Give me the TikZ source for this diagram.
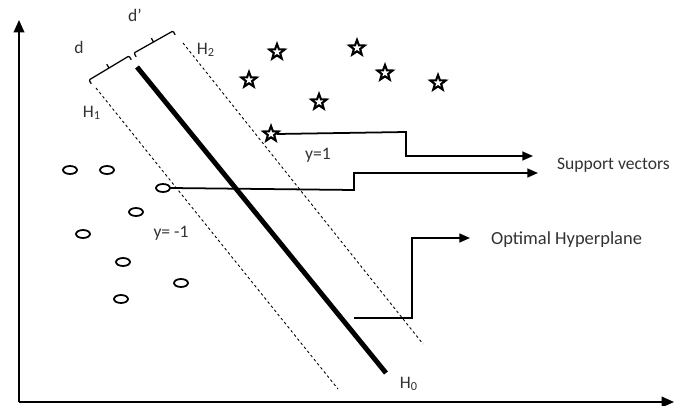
\documentclass[tikz,border=0pt]{standalone}
\usepackage{fontspec}
\setmainfont{Carlito}
\usepackage{tikz}
\usetikzlibrary{shapes.geometric,arrows.meta,positioning,calc}
\definecolor{textgrey}{RGB}{50,50,50}
% flat bracket between two points: end ticks toward the margin, middle tick away
\newcommand{\marginbracket}[2]{%
  \draw[line width=0.7pt, rounded corners=0.6pt]
    ($(#1)!2.5pt!-90:(#2)$) -- (#1) -- (#2) -- ($(#2)!2.5pt!90:(#1)$);
  \draw[line width=0.7pt] ($(#1)!0.5!(#2)$) -- ($($(#1)!0.5!(#2)$)!2.5pt!90:(#2)$);}

\begin{document}
\begin{tikzpicture}[x=0.02cm, y=-0.02cm,
    starpt/.style={star, star points=5, star point ratio=2.4, draw=black, line width=1.2pt,
                   fill=white, minimum size=0.32cm, inner sep=0pt},
    ovpt/.style={ellipse, draw=black, line width=1pt, fill=white,
                 minimum width=0.28cm, minimum height=0.16cm, inner sep=0pt},
    lbl/.style={font=\fontsize{10}{12}\selectfont, text=textgrey, inner sep=1pt},
    margin/.style={dash pattern=on 1.5pt off 1.5pt, line width=0.5pt},
    conn/.style={line width=1pt, -{Triangle[length=6pt, width=5pt]}}]
\useasboundingbox (0,0) rectangle (675,405);
% axes
\coordinate (o) at (19,402);
\coordinate (ytop) at (19,20);
\coordinate (xend) at (674,402);
\draw[line width=1pt, -{Triangle[length=7pt, width=6pt]}] (o) -- (ytop);
\draw[line width=1pt, -{Triangle[length=7pt, width=6pt]}] (o) -- (xend);
% hyperplane and margins
\coordinate (h0a) at (137,67);
\coordinate (h0b) at (386,373);
\coordinate (h1a) at (96,88);
\coordinate (h1b) at (338,389);
\coordinate (h2a) at (183,43);
\coordinate (h2b) at (423,344);
\draw[line width=2.8pt] (h0a) -- (h0b);
\draw[margin] (h1a) -- (h1b);
\draw[margin] (h2a) -- (h2b);
% distance brackets
\coordinate (da) at (89,80);
\coordinate (db) at (129,56);
\coordinate (dpa) at (134,53);
\coordinate (dpb) at (173,31);
\marginbracket{da}{db}
\marginbracket{dpa}{dpb}
\node[lbl] (dlbl) at (79,47) {d};
\node[lbl] (dplbl) at (135,15) {d’};
\node[lbl] (h1lbl) at (92,113) {H\textsubscript{1}};
\node[lbl] (h2lbl) at (206,50) {H\textsubscript{2}};
\node[lbl] (h0lbl) at (409,384) {H\textsubscript{0}};
\node[lbl] (pos) at (318,155) {y=1};
\node[lbl] (neg) at (171,233) {y= -1};
% class +1 (stars)
\foreach \i/\px/\py in {1/277/52, 2/357/48, 3/249/80, 4/385/73, 5/438/83, 6/319/102, 7/271/134}
  \node[starpt] (s\i) at (\px,\py) {};
% class -1 (ovals)
\foreach \i/\px/\py in {1/70/170, 2/107/170, 3/163/188, 4/136/212, 5/83/234, 6/123/262, 7/181/283, 8/121/299}
  \node[ovpt] (c\i) at (\px,\py) {};
% captions
\node[lbl, anchor=west] (sv) at (555,165) {Support vectors};
\node[lbl, anchor=west, font=\fontsize{10.5}{12}\selectfont] (opt) at (489,240) {Optimal Hyperplane};
% connectors
\coordinate (sv1) at (533,156);
\coordinate (sv2) at (538,173);
\coordinate (optend) at (470,238);
\coordinate (optstart) at (354,318);
\draw[conn] (s7.east) -- (406,132) -- (406,156) -- (sv1);
\draw[conn] (c3.east) -- (354,190) -- (354,173) -- (sv2);
\draw[conn] (optstart) -- (412,318) -- (412,238) -- (optend);
\end{tikzpicture}
\end{document}
